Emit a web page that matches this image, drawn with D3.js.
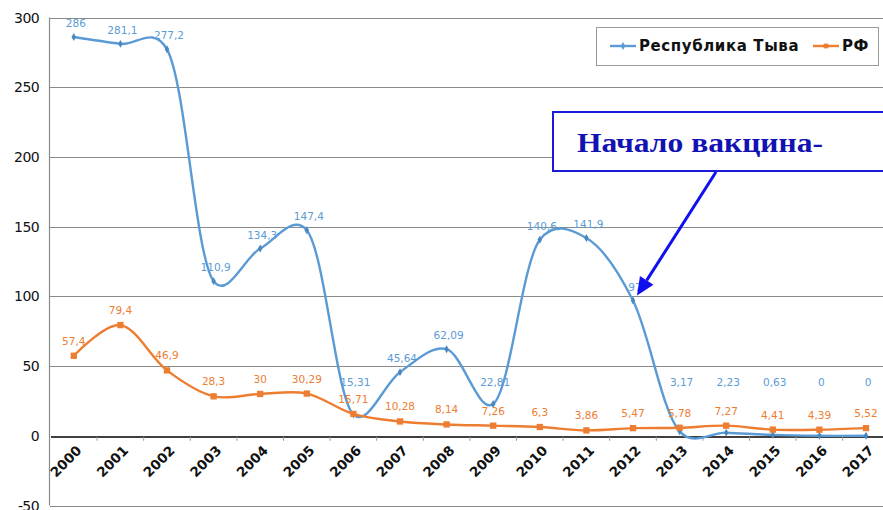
<!DOCTYPE html>
<html>
<head>
<meta charset="utf-8">
<script src="https://cdn.jsdelivr.net/npm/d3@7"></script>
<style>
  html, body { margin: 0; padding: 0; background: #fff; }
  svg { display: block; }
</style>
</head>
<body>
<div id="chart"></div>
<script>
// Incidence: Republic of Tyva vs Russian Federation, 2000-2017

const years = ["2000", "2001", "2002", "2003", "2004", "2005", "2006", "2007", "2008",
  "2009", "2010", "2011", "2012", "2013", "2014", "2015", "2016", "2017"];
const tyvaValues = [286, 281.1, 277.2, 110.9, 134.3, 147.4, 15.31, 45.64, 62.09,
  22.81, 140.6, 141.9, 97, 3.17, 2.23, 0.63, 0, 0];
const rfValues = [57.4, 79.4, 46.9, 28.3, 30, 30.29, 15.71, 10.28, 8.14,
  7.26, 6.3, 3.86, 5.47, 5.78, 7.27, 4.41, 4.39, 5.52];
const yTicks = [-50, 0, 50, 100, 150, 200, 250, 300];
const seriesNames = ["Республика Тыва", "РФ"];
const annotationText = "Начало вакцина-";
const annotationYear = "2012";

const width = 883;
const height = 510;
const blue = "#5b9bd5";
const orange = "#ed7d31";
const arrowBlue = "#1010ee";

const svg = d3.select("#chart")
  .append("svg")
  .attr("width", width)
  .attr("height", height)
  .attr("viewBox", [0, 0, width, height]);

const x = d3.scaleBand()
  .domain(years)
  .range([50.5, 889.3]);

const y = d3.scaleLinear()
  .domain([-50, 300])
  .range([505.5, 17.5]);

const cx = (year) => x(year) + x.bandwidth() / 2;
const fmt = (v) => String(v).replace(".", ",");

// Gridlines
svg.append("g")
  .selectAll("line")
  .data(yTicks.filter((d) => d !== 0))
  .join("line")
  .attr("x1", 50)
  .attr("x2", width)
  .attr("y1", (d) => Math.round(y(d)) + 0.5)
  .attr("y2", (d) => Math.round(y(d)) + 0.5)
  .attr("stroke", "#8a8a8a")
  .attr("stroke-width", 1.2);

// Y axis line + labels
svg.append("line")
  .attr("x1", 49.5).attr("x2", 49.5)
  .attr("y1", y(300)).attr("y2", y(-50))
  .attr("stroke", "#8a8a8a")
  .attr("stroke-width", 1.2);

svg.append("g")
  .selectAll("text")
  .data(yTicks)
  .join("text")
  .attr("x", 39)
  .attr("y", (d) => y(d))
  .attr("dy", "0.36em")
  .attr("text-anchor", "end")
  .attr("font-family", "DejaVu Sans, sans-serif")
  .attr("font-size", 14)
  .attr("letter-spacing", -0.6)
  .attr("fill", "#111")
  .text((d) => d);

// X axis (zero line) with ticks between categories
const xAxis = d3.axisBottom(x)
  .tickSize(0)
  .tickFormat("");
svg.append("g")
  .attr("transform", `translate(0,${Math.round(y(0)) + 0.5})`)
  .call(xAxis)
  .call((g) => g.select(".domain").attr("stroke", "#000").attr("stroke-width", 1.6));

svg.append("g")
  .selectAll("line")
  .data(years.slice(1))
  .join("line")
  .attr("x1", (d) => x(d))
  .attr("x2", (d) => x(d))
  .attr("y1", y(0) + 1)
  .attr("y2", y(0) + 5)
  .attr("stroke", "#999");

svg.append("g")
  .selectAll("text")
  .data(years)
  .join("text")
  .attr("transform", (d) => `translate(${cx(d) + 2},${y(0) + 9}) rotate(-45)`)
  .attr("text-anchor", "end")
  .attr("dy", "0.7em")
  .attr("font-family", "DejaVu Sans, sans-serif")
  .attr("font-weight", "bold")
  .attr("font-size", 13.5)
  .attr("fill", "#111")
  .text((d) => d);

// Series lines
const line = d3.line()
  .x((d) => cx(d.year))
  .y((d) => y(d.value))
  .curve(d3.curveCatmullRom.alpha(0.2));

const tyva = years.map((year, i) => ({ year, value: tyvaValues[i] }));
const rf = years.map((year, i) => ({ year, value: rfValues[i] }));

svg.append("path")
  .datum(tyva)
  .attr("fill", "none")
  .attr("stroke", blue)
  .attr("stroke-width", 2.4)
  .attr("d", line);

svg.append("g")
  .selectAll("path")
  .data(tyva)
  .join("path")
  .attr("transform", (d) => `translate(${cx(d.year)},${y(d.value)})`)
  .attr("d", d3.symbol(d3.symbolDiamond, 18))
  .attr("fill", "#4a88c0");

svg.append("path")
  .datum(rf)
  .attr("fill", "none")
  .attr("stroke", orange)
  .attr("stroke-width", 2.4)
  .attr("d", line);

svg.append("g")
  .selectAll("path")
  .data(rf)
  .join("path")
  .attr("transform", (d) => `translate(${cx(d.year)},${y(d.value)})`)
  .attr("d", d3.symbol(d3.symbolSquare, 40))
  .attr("fill", orange);

// Data labels
const labelFont = (sel) => sel
  .attr("text-anchor", "middle")
  .attr("font-family", "DejaVu Sans, sans-serif")
  .attr("font-size", 10.5);

svg.append("g")
  .selectAll("text")
  .data(tyva)
  .join("text")
  .attr("x", (d) => cx(d.year) + 2)
  .attr("y", (d) => Math.min(y(d.value) - 10, y(36)))
  .call(labelFont)
  .attr("fill", blue)
  .text((d) => fmt(d.value));

svg.append("g")
  .selectAll("text")
  .data(rf)
  .join("text")
  .attr("x", (d) => cx(d.year))
  .attr("y", (d) => y(d.value) - 11)
  .call(labelFont)
  .attr("fill", orange)
  .text((d) => fmt(d.value));

// Legend
const legend = svg.append("g").attr("transform", "translate(596,27)");
legend.append("rect")
  .attr("x", 0.5).attr("y", 0.5)
  .attr("width", 282).attr("height", 38)
  .attr("fill", "#fff")
  .attr("stroke", "#9a9a9a");

const legendItems = [
  { name: seriesNames[0], color: blue, symbol: d3.symbolDiamond, size: 18, x: 14 },
  { name: seriesNames[1], color: orange, symbol: d3.symbolSquare, size: 22, x: 217 }
];
const li = legend.selectAll("g.item")
  .data(legendItems)
  .join("g")
  .attr("class", "item")
  .attr("transform", (d) => `translate(${d.x},19)`);
li.append("line")
  .attr("x1", 0).attr("x2", 26)
  .attr("stroke", (d) => d.color)
  .attr("stroke-width", 2.4);
li.append("path")
  .attr("transform", "translate(13,0)")
  .attr("d", (d) => d3.symbol(d.symbol, d.size)())
  .attr("fill", (d) => d.color);
li.append("text")
  .attr("x", 29)
  .attr("dy", "0.36em")
  .attr("font-family", "DejaVu Sans, sans-serif")
  .attr("font-weight", "bold")
  .attr("font-size", 15)
  .attr("letter-spacing", 0.6)
  .attr("fill", "#111")
  .text((d) => d.name);

// Annotation box with arrow
const ann = svg.append("g");
ann.append("rect")
  .attr("x", 553).attr("y", 112)
  .attr("width", 340).attr("height", 59)
  .attr("fill", "#fff")
  .attr("stroke", "#1a1ad8")
  .attr("stroke-width", 2);
ann.append("text")
  .attr("x", 577)
  .attr("y", 152)
  .attr("font-family", "Liberation Serif, serif")
  .attr("font-weight", "bold")
  .attr("font-size", 28)
  .attr("textLength", 246)
  .attr("lengthAdjust", "spacingAndGlyphs")
  .attr("fill", "#1212b4")
  .text(annotationText);

const tipX = cx(annotationYear) + 4;
const tipY = y(tyvaValues[years.indexOf(annotationYear)]) - 5;
const startX = 716, startY = 172;
const ang = Math.atan2(tipY - startY, tipX - startX);
const headLen = 18, headW = 8;
const bx = tipX - headLen * Math.cos(ang), by = tipY - headLen * Math.sin(ang);
ann.append("line")
  .attr("x1", startX).attr("y1", startY)
  .attr("x2", bx).attr("y2", by)
  .attr("stroke", arrowBlue)
  .attr("stroke-width", 3);
ann.append("path")
  .attr("d", d3.line()([
    [tipX, tipY],
    [bx + headW * Math.sin(ang), by - headW * Math.cos(ang)],
    [bx - headW * Math.sin(ang), by + headW * Math.cos(ang)]
  ]) + "Z")
  .attr("fill", arrowBlue);
</script>
</body>
</html>
